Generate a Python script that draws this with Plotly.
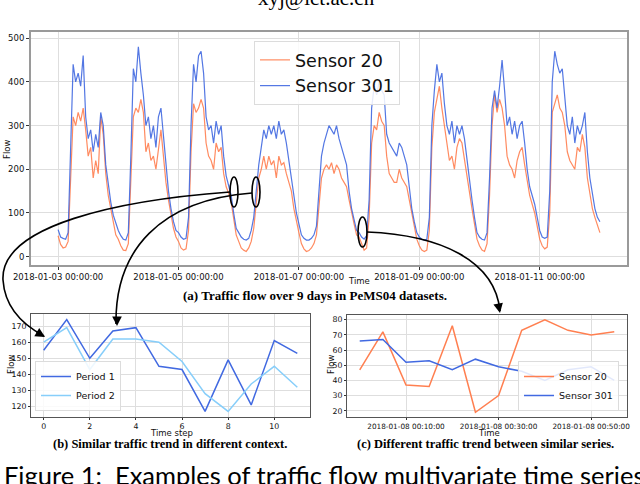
import pandas as pd
import plotly.graph_objects as go

W, H = 640, 484

# ---- (a) hourly flow, 2018-01-03 00:00 -> 2018-01-12 00:00
sensor301_flow = [
    62, 45, 42, 40, 55, 250, 440, 400, 420, 390, 460, 320, 270, 290, 240, 280, 250, 330, 300, 210, 160, 125, 95, 75,
    60, 48, 40, 38, 55, 230, 430, 400, 480, 420, 370, 300, 320, 270, 300, 250, 320, 340, 280, 210, 150, 110, 80, 60,
    55, 45, 40, 42, 90, 300, 440, 400, 460, 470, 420, 320, 290, 300, 260, 310, 280, 300, 230, 185, 165, 140, 100, 65,
    55, 45, 40, 38, 42, 60, 90, 150, 210, 250, 290, 270, 300, 280, 300, 270, 310, 280, 290, 260, 220, 170, 130, 100,
    75, 50, 42, 38, 38, 42, 50, 70, 150, 230, 260, 280, 300, 290, 280, 300, 270, 250, 230, 210, 150, 110, 85, 60,
    55, 45, 40, 48, 130, 340, 390, 370, 400, 380, 370, 280, 260, 250, 240, 230, 260, 250, 230, 210, 160, 110, 80, 55,
    45, 40, 38, 40, 90, 300, 380, 440, 400, 420, 350, 300, 280, 310, 260, 300, 280, 300, 270, 220, 170, 130, 90, 55,
    45, 40, 38, 55, 180, 340, 380, 340, 390, 450, 380, 300, 320, 280, 310, 270, 300, 310, 260, 200, 160, 140, 120, 90,
    60, 45, 42, 45, 150, 400, 470, 440, 420, 430, 360, 300, 280, 320, 260, 300, 280, 300, 330, 240, 180, 140, 110, 90,
    80,
]
sensor20_flow = [
    48, 28, 20, 22, 35, 190, 320, 300, 330, 310, 340, 290, 230, 250, 180, 220, 190, 320, 280, 190, 140, 110, 75, 50,
    40, 25, 15, 14, 30, 180, 320, 340, 330, 360, 330, 240, 260, 220, 230, 200, 250, 290, 230, 170, 130, 95, 65, 45,
    35, 20, 15, 18, 60, 240, 350, 330, 340, 360, 340, 260, 230, 220, 200, 260, 240, 250, 190, 160, 145, 125, 85, 50,
    35, 20, 15, 12, 20, 35, 65, 130, 180, 200, 230, 200, 230, 210, 220, 180, 230, 210, 215, 190, 170, 150, 110, 80,
    55, 30, 18, 12, 14, 20, 30, 50, 120, 180, 200, 210, 200, 215, 190, 210, 200, 180, 170, 160, 130, 100, 75, 50,
    45, 30, 15, 20, 90, 260, 300, 290, 330, 310, 300, 230, 190, 180, 170, 170, 200, 180, 170, 160, 130, 100, 70, 40,
    25, 15, 12, 15, 60, 250, 330, 360, 390, 340, 300, 260, 220, 230, 200, 250, 270, 260, 220, 180, 140, 110, 75, 40,
    25, 15, 12, 30, 140, 300, 370, 330, 360, 340, 300, 230, 210, 200, 180, 220, 240, 250, 210, 170, 140, 120, 100, 70,
    40, 25, 18, 22, 100, 330, 350, 370, 340, 330, 300, 240, 220, 210, 200, 250, 240, 280, 250, 180, 140, 110, 90, 70,
    55,
]
times_a = pd.date_range("2018-01-03 00:00", periods=len(sensor301_flow), freq="h")
ticks_a = pd.date_range("2018-01-03", "2018-01-11", freq="2D")

# ---- (b) two periods
time_step = list(range(12))
period1 = [155, 174, 150, 167, 169, 145, 143, 117, 149, 121, 161, 153]
period2 = [160, 169, 143, 162, 162, 160, 148, 128, 117, 134, 145, 132]

# ---- (c) 5-minute window on 2018-01-08
times_c = pd.date_range("2018-01-08 00:00", periods=12, freq="5min")
sensor20_c = [47, 72, 37, 36, 76, 19, 30, 73, 80, 73, 70, 72]
sensor301_c = [66, 67, 52, 53, 47, 54, 49, 46, 40, 47, 49, 40]
ticks_c = pd.to_datetime(["2018-01-08 00:10", "2018-01-08 00:30", "2018-01-08 00:50"])

CORAL = "#FF7F50"
BLUE = "#4169E1"
SKY = "#87CEFA"


def px(x):
    return x / W


def py(y):
    return 1 - y / H


fig = go.Figure()

fig.add_trace(go.Scatter(x=times_a, y=sensor20_flow, name="Sensor 20", mode="lines",
                         line=dict(color=CORAL, width=1.2), opacity=0.9,
                         xaxis="x", yaxis="y", legend="legend"))
fig.add_trace(go.Scatter(x=times_a, y=sensor301_flow, name="Sensor 301", mode="lines",
                         line=dict(color=BLUE, width=1.2), opacity=0.9,
                         xaxis="x", yaxis="y", legend="legend"))

fig.add_trace(go.Scatter(x=time_step, y=period1, name="Period 1", mode="lines",
                         line=dict(color=BLUE, width=1.5),
                         xaxis="x2", yaxis="y2", legend="legend2"))
fig.add_trace(go.Scatter(x=time_step, y=period2, name="Period 2", mode="lines",
                         line=dict(color=SKY, width=1.5),
                         xaxis="x2", yaxis="y2", legend="legend2"))

fig.add_trace(go.Scatter(x=times_c, y=sensor20_c, name="Sensor 20", mode="lines",
                         line=dict(color=CORAL, width=1.5),
                         xaxis="x3", yaxis="y3", legend="legend3"))
fig.add_trace(go.Scatter(x=times_c, y=sensor301_c, name="Sensor 301", mode="lines",
                         line=dict(color=BLUE, width=1.5),
                         xaxis="x3", yaxis="y3", legend="legend3"))

common = dict(showgrid=True, gridcolor="#dedede", gridwidth=1, showline=True, mirror=True,
              ticks="outside", tickcolor="#333", zeroline=False,
              automargin=False, tickangle=0)
frame_a = dict(linecolor="#9a9a9a", linewidth=2, ticklen=3,
               tickfont=dict(family="DejaVu Sans", size=8.5, color="#111"))
frame_b = dict(linecolor="#555", linewidth=1, ticklen=2,
               tickfont=dict(family="DejaVu Sans", size=7.8, color="#111"))

fig.update_layout(
    width=W, height=H,
    margin=dict(l=0, r=0, t=0, b=0, pad=0, autoexpand=False),
    paper_bgcolor="white", plot_bgcolor="white",
    showlegend=True,
    xaxis=dict(domain=[px(31), px(627)], anchor="y",
               range=[pd.Timestamp("2018-01-02 13:12"), pd.Timestamp("2018-01-12 10:48")],
               tickvals=ticks_a, tickformat="%Y-%m-%d %H:%M:%S", **common, **frame_a),
    yaxis=dict(domain=[py(265), py(32)], anchor="x", range=[-19, 514], dtick=100,
               **common, **frame_a),
    xaxis2=dict(domain=[px(31), px(310)], anchor="y2", range=[-0.55, 11.55],
                tickvals=[0, 2, 4, 6, 8, 10], **common, **frame_b),
    yaxis2=dict(domain=[py(417), py(314)], anchor="x2", range=[113.5, 177.5],
                tickvals=[120, 130, 140, 150, 160, 170], **common, **frame_b),
    xaxis3=dict(domain=[px(347), px(627)], anchor="y3",
                range=[pd.Timestamp("2018-01-07 23:57:15"), pd.Timestamp("2018-01-08 00:57:45")],
                tickvals=ticks_c, tickformat="%Y-%m-%d %H:%M:%S", **common, **frame_b),
    yaxis3=dict(domain=[py(417), py(315)], anchor="x3", range=[15.9, 83.1],
                tickvals=[20, 30, 40, 50, 60, 70, 80], **common, **frame_b),
    legend=dict(x=px(254), y=py(41), xanchor="left", yanchor="top",
                font=dict(family="DejaVu Sans", size=17.5, color="#111"),
                bgcolor="rgba(255,255,255,0.85)", bordercolor="#dcdcdc", borderwidth=1,
                tracegroupgap=0),
    legend2=dict(x=px(35), y=py(411), xanchor="left", yanchor="bottom",
                 font=dict(family="DejaVu Sans", size=9.5, color="#111"),
                 bgcolor="rgba(255,255,255,0.85)", bordercolor="#dcdcdc", borderwidth=1,
                 tracegroupgap=0),
    legend3=dict(x=px(619), y=py(411), xanchor="right", yanchor="bottom",
                 font=dict(family="DejaVu Sans", size=9.5, color="#111"),
                 bgcolor="rgba(255,255,255,0.85)", bordercolor="#dcdcdc", borderwidth=1,
                 tracegroupgap=0),
)
fig.update_xaxes(tickfont_size=7.3, selector=dict(anchor="y3"))

label_font = dict(family="DejaVu Sans", size=8.5, color="#111")


def text(x, y, s, font, angle=0):
    fig.add_annotation(x=px(x), y=py(y), xref="paper", yref="paper", text=s, showarrow=False,
                       xanchor="center", yanchor="middle", font=font, textangle=angle)


text(316, -2, "xyj@ict.ac.cn", dict(family="Liberation Serif", size=21, color="#000"))
text(7, 150, "Flow", label_font, -90)
text(359, 281, "Time", label_font)
text(315, 295, "<b>(a) Traffic flow over 9 days in PeMS04 datasets.</b>",
     dict(family="Liberation Serif", size=13, color="#000"))
text(11, 365, "Flow", label_font, -90)
text(171, 433, "Time step", label_font)
text(170, 444, "<b>(b) Similar traffic trend in different context.</b>",
     dict(family="Liberation Serif", size=12.5, color="#000"))
text(331, 365, "Flow", label_font, -90)
text(489, 433, "Time", label_font)
text(485, 444, "<b>(c) Different traffic trend between similar series.</b>",
     dict(family="Liberation Serif", size=12.5, color="#000"))
fig.add_annotation(x=0.003, y=py(475), xref="paper", yref="paper", showarrow=False,
                   xanchor="left", yanchor="middle",
                   text="Figure 1:  Examples of traffic flow multivariate time series",
                   font=dict(family="Lato", size=25.5, color="#000"))


# ellipses marking the snippets
def ellipse(x0, y0, x1, y1):
    fig.add_shape(type="circle", xref="paper", yref="paper",
                  x0=px(x0), x1=px(x1), y0=py(y1), y1=py(y0),
                  line=dict(color="black", width=1.6))


ellipse(230, 177, 238, 207)
ellipse(252, 177, 260, 207)
ellipse(358, 217, 367, 247)


def curve(pts):
    (x0, y0), rest = pts[0], pts[1:]
    d = f"M {px(x0)},{py(y0)}"
    for i in range(0, len(rest), 3):
        (a, b), (c, e), (f, g) = rest[i:i + 3]
        d += f" C {px(a)},{py(b)} {px(c)},{py(e)} {px(f)},{py(g)}"
    fig.add_shape(type="path", xref="paper", yref="paper", path=d,
                  line=dict(color="black", width=1.6))


curve([(230, 192), (120, 200), (0, 225), (3, 280), (5, 310), (25, 326), (44, 336)])
curve([(252, 193), (160, 200), (115, 250), (116, 324)])
curve([(367, 232), (440, 235), (495, 260), (500, 311)])


def arrow_head(x, y, ax, ay):
    fig.add_annotation(x=px(x), y=py(y), xref="paper", yref="paper", text="",
                       showarrow=True, ax=ax, ay=ay, arrowhead=2, arrowsize=1.2,
                       arrowwidth=1.6, arrowcolor="black")


arrow_head(45, 337, -10, -6)
arrow_head(117, 326, 0, -10)
arrow_head(500, 313, -2, -10)

# page body has an 8px default margin; drop it so the figure sits at the window corner
fig.write_html("out.html", config={"displayModeBar": False},
               post_script="document.body.style.margin='0';")
